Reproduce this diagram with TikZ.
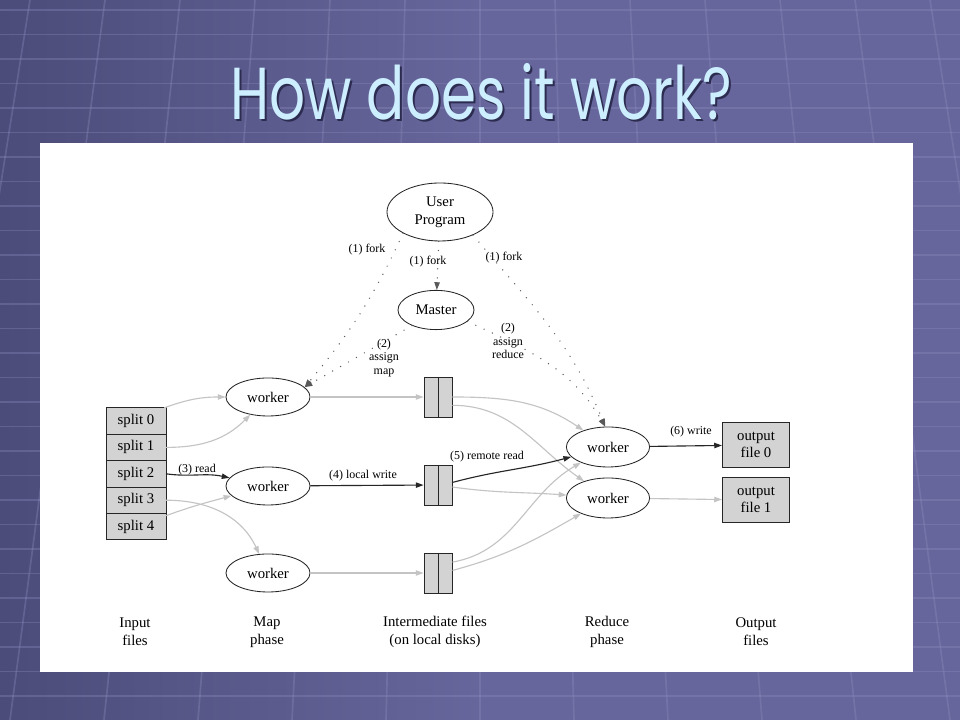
\documentclass[tikz,border=0pt]{standalone}
\usepackage{fontspec}
\usepackage{graphicx}
\setmainfont{Liberation Serif}
\newfontfamily\titlefont{Poppins}
\usetikzlibrary{arrows.meta,positioning,calc,shapes.geometric}

\definecolor{slidedark}{RGB}{76,76,122}
\definecolor{slidelight}{RGB}{102,102,156}
\definecolor{tilegrid}{RGB}{140,140,190}
\definecolor{titlecyan}{RGB}{204,238,255}
\definecolor{titleshade}{RGB}{44,44,80}
\definecolor{boxgray}{RGB}{211,211,211}
\definecolor{flowgray}{RGB}{196,196,196}

\begin{document}
\begin{tikzpicture}[
  x=0.025cm, y=0.025cm,
  >={Triangle[length=5.5pt,width=3.8pt]},
  every node/.style={font=\fontsize{10.5}{12.5}\selectfont},
  proc/.style={ellipse, draw=black!85, line width=0.6pt, inner sep=0pt, minimum width=2.1cm, minimum height=0.95cm},
  splitbox/.style={rectangle, draw=black!85, fill=boxgray, line width=0.6pt, outer sep=0pt, minimum width=1.5cm, minimum height=0.66cm, inner sep=0pt},
  diskfile/.style={rectangle, draw=black!85, fill=boxgray, line width=0.6pt, minimum width=0.7cm, minimum height=1cm, inner sep=0pt,
    path picture={\draw[line width=0.6pt, black!85] (path picture bounding box.north) -- (path picture bounding box.south);}},
  outbox/.style={rectangle, draw=black!85, fill=boxgray, line width=0.6pt, minimum width=1.68cm, minimum height=1.12cm, inner sep=0pt, align=center},
  lbl/.style={font=\fontsize{8.5}{9.8}\selectfont, align=center, inner sep=1pt},
  phase/.style={align=center, font=\fontsize{10.5}{12.8}\selectfont},
  forkline/.style={->, line width=1pt, black!65, line cap=round, dash pattern=on 0pt off 6.5pt},
  dataline/.style={->, line width=0.8pt, flowgray},
  activeline/.style={->, line width=0.8pt, black!85},
  tileline/.style={line width=1.2pt, tilegrid, opacity=0.35},
]
  \useasboundingbox (0,0) rectangle (960,720);

  % Slide background
  \fill[left color=slidedark, right color=slidelight, middle color=slidelight] (0,0) rectangle (960,720);
  \begin{scope}
    \clip (0,0) rectangle (960,720);
    \foreach \k in {0,...,29}
      \draw[tileline] (0,{710-\k*24.5}) -- (960,{710-\k*24.5});
    \foreach \i in {-8,...,8}
      \draw[tileline] ({480+\i*75},720) -- ({480+\i*94},0);
  \end{scope}

  % Title
  \node[anchor=base west, inner sep=0pt, text=titleshade] (titleshadow) at (232,598)
    {\resizebox{12.55cm}{1.4cm}{\titlefont How does it work?}};
  \node[anchor=base west, inner sep=0pt, text=titlecyan] (title) at (230,600)
    {\resizebox{12.55cm}{1.4cm}{\titlefont How does it work?}};

  % White panel
  \fill[white] (40,48) rectangle (913,577);

  % Program and master
  \node[proc, minimum width=2.65cm, minimum height=1.45cm, align=center] (up) at (440,508) {User\\Program};
  \node[proc, minimum width=1.9cm, minimum height=0.98cm] (master) at (436,410) {Master};

  % Input splits
  \node[splitbox] (s0) at (136,299) {split 0};
  \node[splitbox, below=0pt of s0] (s1) {split 1};
  \node[splitbox, below=0pt of s1] (s2) {split 2};
  \node[splitbox, below=0pt of s2] (s3) {split 3};
  \node[splitbox, below=0pt of s3] (s4) {split 4};

  % Map workers
  \node[proc] (m0) at (268,323) {worker};
  \node[proc] (m1) at (268,234) {worker};
  \node[proc] (m2) at (268,147) {worker};

  % Intermediate files
  \node[diskfile] (f0) at (438,323) {};
  \node[diskfile] (f1) at (438,235) {};
  \node[diskfile] (f2) at (438,147) {};

  % Reduce workers
  \node[proc, minimum width=2.08cm, minimum height=1cm] (r0) at (608,273) {worker};
  \node[proc, minimum width=2.08cm, minimum height=1cm] (r1) at (608,222) {worker};

  % Output files
  \node[outbox] (o0) at (756,275) {output\\file 0};
  \node[outbox] (o1) at (756,220) {output\\file 1};

  % Fork and assign
  \draw[forkline] (up) -- (master);
  \draw[forkline] (up.210) to[out=-115, in=50] (m0.15);
  \draw[forkline] (master.213) to[out=-150, in=30] (m0.15);
  \draw[forkline] (up.-35) to[out=-50, in=112] (r0.98);
  \draw[forkline] (master.-20) to[out=-25, in=120] (r0.98);

  % Splits to map workers
  \draw[dataline] (s0.25) to[out=20, in=180] (m0);
  \draw[dataline] (s1.east) to[out=0, in=-135] (m0);
  \draw[activeline] (s2.east) to[out=-8, in=168] (m1);
  \draw[dataline] (s3.east) to[out=0, in=115] (m2);
  \draw[dataline] (s4.20) to[out=20, in=195] (m1);

  % Map workers to local disks
  \draw[dataline] (m0) -- (f0);
  \draw[activeline] (m1) -- (f1);
  \draw[dataline] (m2) -- (f2);

  % Local disks to reduce workers
  \draw[dataline] (f0.east) to[out=0, in=146] (r0);
  \draw[dataline] (f0.-30) to[out=0, in=145] (r1);
  \draw[activeline] (f1.10) to[out=15, in=195] (r0);
  \draw[dataline] (f1.-8) to[out=-8, in=176] (r1);
  \draw[dataline] (f2.37) to[out=10, in=-150] (r0);
  \draw[dataline] (f2.10) to[out=15, in=-150] (r1);

  % Reduce workers to output
  \draw[activeline] (r0) -- (o0);
  \draw[dataline] (r1) -- (o1);

  % Connector labels
  \node[lbl] (forkl) at (367,470) {(1) fork};
  \node[lbl] (forkm) at (428,458) {(1) fork};
  \node[lbl] (forkr) at (504,462) {(1) fork};
  \node[lbl] (amap) at (384,362) {(2)\\assign\\map};
  \node[lbl] (ared) at (508,379) {(2)\\assign\\reduce};
  \node[lbl] (readl) at (197,250) {(3) read};
  \node[lbl] (lwrite) at (363,244) {(4) local write};
  \node[lbl] (rread) at (487,263) {(5) remote read};
  \node[lbl] (owrite) at (691,288) {(6) write};

  % Phase captions
  \node[phase] (capin) at (135,88) {Input\\files};
  \node[phase] (capmap) at (267,88) {Map\\phase};
  \node[phase] (capmid) at (435,88) {Intermediate files\\(on local disks)};
  \node[phase] (capred) at (607,88) {Reduce\\phase};
  \node[phase] (capout) at (756,88) {Output\\files};
\end{tikzpicture}
\end{document}
